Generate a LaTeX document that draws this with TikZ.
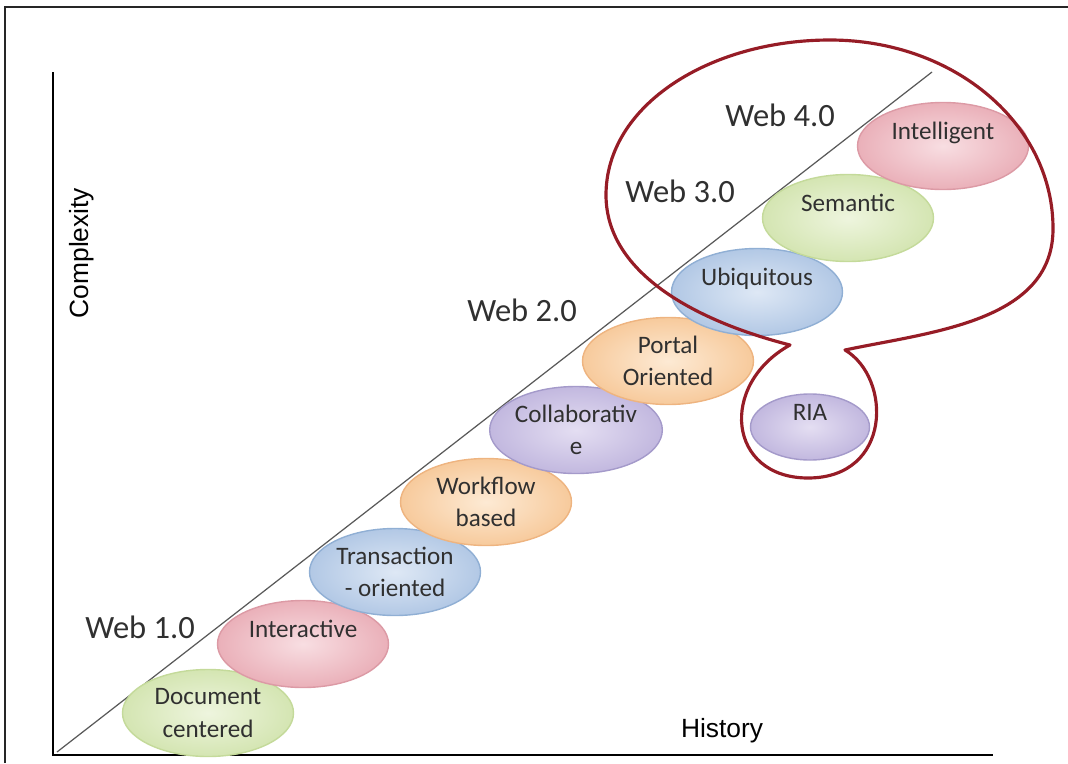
\documentclass[tikz,border=0pt]{standalone}
\usepackage{fontspec}
\setmainfont{Carlito}
\newfontfamily\axfont{Liberation Sans}
\usetikzlibrary{shapes.geometric}
\definecolor{txtg}{RGB}{48,48,48}
\definecolor{loopred}{RGB}{150,28,38}
\definecolor{gin}{RGB}{238,245,222}\definecolor{gout}{RGB}{212,229,178}\definecolor{gdr}{RGB}{196,218,154}
\definecolor{pin}{RGB}{248,222,226}\definecolor{pout}{RGB}{234,176,185}\definecolor{pdr}{RGB}{220,154,165}
\definecolor{bin}{RGB}{222,232,245}\definecolor{bout}{RGB}{178,200,229}\definecolor{bdr}{RGB}{144,175,212}
\definecolor{oin}{RGB}{253,234,212}\definecolor{oout}{RGB}{247,202,156}\definecolor{odr}{RGB}{238,180,128}
\definecolor{vin}{RGB}{228,222,242}\definecolor{vout}{RGB}{194,184,223}\definecolor{vdr}{RGB}{164,154,202}
\tikzset{
  bub/.style={ellipse, line width=0.8pt, inner sep=0pt, minimum width=34.2mm,
              minimum height=17.4mm, align=center, text=txtg,
              font=\fontsize{14.3}{18.5}\selectfont},
  lift/.style={text depth=6mm},
  bgreen/.style={bub, draw=gdr, inner color=gin, outer color=gout},
  bpink/.style={bub, draw=pdr, inner color=pin, outer color=pout},
  bblue/.style={bub, draw=bdr, inner color=bin, outer color=bout},
  borange/.style={bub, draw=odr, inner color=oin, outer color=oout},
  bviolet/.style={bub, draw=vdr, inner color=vin, outer color=vout},
  wlab/.style={font=\fontsize{18.5}{22}\selectfont, text=txtg},
  axlab/.style={font=\axfont\fontsize{15}{18}\selectfont},
  ax/.style={line width=0.9pt, black},
  trend/.style={line width=0.7pt, black!65},
  frm/.style={line width=1.3pt, black!85},
  bubble/.style={line width=1.8pt, loopred, line join=round},
}

\begin{document}
\begin{tikzpicture}[x=0.2mm, y=-0.2mm]
  \useasboundingbox (0,0) rectangle (1068,763);
  \draw[frm] (5,763) -- (5,7) -- (1068,7);
  % axes
  \coordinate (ytop) at (53,72);
  \coordinate (orig) at (53,755);
  \coordinate (xend) at (993,755);
  \draw[ax] (ytop) -- (orig) -- (xend);
  \node[axlab, rotate=90] (cplx) at (82,253) {Complexity};
  \node[axlab] (hist) at (722,731) {History};
  % trend line
  \coordinate (t0) at (57,752);
  \coordinate (t1) at (932,72);
  \draw[trend] (t0) -- (t1);
  % stages
  \node[bgreen] (doc) at (208,713) {Document\\centered};
  \node[bpink, lift] (inter) at (303,644) {Interactive};
  \node[bblue] (trans) at (395,572) {Transaction\\- oriented};
  \node[borange] (wflow) at (486,502) {Workflow\\based};
  \node[bviolet] (collab) at (576,430) {Collaborativ\\e};
  \node[borange] (portal) at (668,361) {Portal\\Oriented};
  \node[bblue, lift] (ubiq) at (757,292) {Ubiquitous};
  \node[bgreen, lift] (sem) at (848,218) {Semantic};
  \node[bpink, lift] (intel) at (943,146) {Intelligent};
  \node[bviolet, lift, minimum width=23.8mm, minimum height=13.2mm] (ria) at (810,427) {RIA};
  \node[wlab] (w1) at (140,627) {Web 1.0};
  \node[wlab] (w2) at (522,310) {Web 2.0};
  \node[wlab] (w3) at (680,191) {Web 3.0};
  \node[wlab] (w4) at (780,115) {Web 4.0};
  % speech bubble round the newer stages
  \draw[bubble] (790,345) .. controls (700,322) and (606,275) .. (606,195)
    .. controls (606,105) and (710,40) .. (830,40)
    .. controls (955,40) and (1054,125) .. (1053,230)
    .. controls (1052,322) and (930,332) .. (845,350)
    .. controls (892,378) and (892,478) .. (808,478)
    .. controls (728,478) and (718,385) .. cycle;
\end{tikzpicture}
\end{document}
